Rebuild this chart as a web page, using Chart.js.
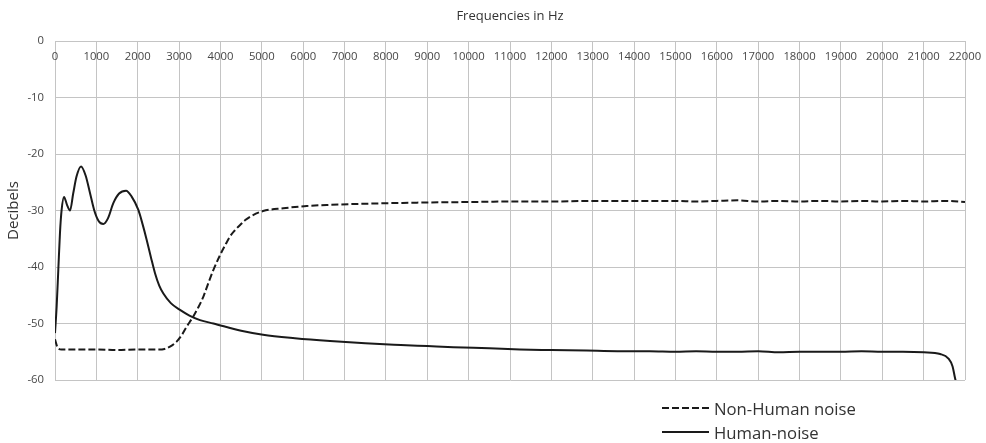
<!DOCTYPE html>
<html><head><meta charset="utf-8">
<script src="https://cdn.jsdelivr.net/npm/chart.js@4"></script>
<style>
html,body{margin:0;padding:0;background:#fff;}
#wrap{position:relative;width:986px;height:443px;}
canvas{position:absolute;left:0;top:0;}
.leg{position:absolute;left:660px;height:20px;font-family:"Open Sans";font-size:16.7px;color:#333333;display:flex;align-items:center;white-space:nowrap;}
.leg span{margin-left:4px;}
</style></head>
<body>
<div id="wrap">
<canvas id="c" width="986" height="443"></canvas>
<div class="leg" style="top:398px"><svg width="50" height="20"><line x1="2" y1="10" x2="49" y2="10" stroke="#1a1a1a" stroke-width="2" stroke-dasharray="7,3"/></svg><span id="l1"></span></div>
<div class="leg" style="top:422px"><svg width="50" height="20"><line x1="2" y1="10" x2="49" y2="10" stroke="#1a1a1a" stroke-width="2"/></svg><span id="l2"></span></div>
</div>
<script>
const seriesNames = ["Non-Human noise", "Human-noise"];
const xTitle = "Frequencies in Hz";
const yTitle = "Decibels";

const nonHumanHz = [0, 60, 160, 500, 1000, 1500, 2000, 2500, 2650, 2780, 2940, 3060, 3180, 3340, 3460, 3590, 3710, 3830, 3990, 4110, 4230, 4350, 4470, 4600, 4715, 5030, 5520, 6090, 6650, 7500, 8820, 10000, 11240, 12000, 13000, 14000, 14380, 15000, 15500, 16000, 16500, 17000, 17500, 18000, 18500, 19000, 19500, 20000, 20500, 21000, 21500, 22000];
const nonHumanDb = [-52.8, -54.2, -54.6, -54.6, -54.6, -54.7, -54.6, -54.6, -54.5, -54.1, -53.2, -52.1, -50.6, -48.8, -47.2, -45.2, -42.8, -40.5, -37.9, -36.2, -34.6, -33.5, -32.6, -31.7, -31.1, -30.1, -29.6, -29.2, -29.0, -28.8, -28.6, -28.5, -28.4, -28.4, -28.3, -28.3, -28.3, -28.3, -28.4, -28.3, -28.2, -28.4, -28.3, -28.4, -28.3, -28.4, -28.3, -28.4, -28.3, -28.4, -28.3, -28.5];

const humanHz = [0, 40, 80, 120, 160, 218, 290, 363, 440, 520, 629, 740, 846, 950, 1050, 1168, 1280, 1410, 1550, 1717, 1850, 2015, 2120, 2217, 2320, 2418, 2520, 2620, 2800, 3022, 3250, 3506, 3830, 4500, 5030, 5800, 6650, 7500, 8360, 9000, 9630, 10500, 11240, 12000, 12850, 13600, 14380, 15000, 15500, 16000, 16500, 17000, 17500, 18000, 18500, 19000, 19500, 20000, 20500, 21000, 21400, 21600, 21700, 21760, 21790];
const humanDb = [-51.7, -47.0, -40.5, -34.0, -29.9, -27.6, -29.0, -30.0, -27.0, -24.0, -22.2, -23.8, -26.9, -30.0, -31.8, -32.4, -31.4, -28.7, -27.0, -26.5, -27.5, -29.9, -32.5, -35.2, -38.3, -41.1, -43.3, -44.7, -46.4, -47.6, -48.6, -49.4, -50.0, -51.3, -52.0, -52.6, -53.1, -53.5, -53.8, -54.0, -54.2, -54.4, -54.6, -54.7, -54.8, -54.9, -54.9, -55.0, -54.9, -55.0, -55.0, -54.9, -55.1, -55.0, -55.0, -55.0, -54.9, -55.0, -55.0, -55.1, -55.4, -56.2, -57.6, -59.7, -60.5];

const xTicks = {min: 0, max: 22000, step: 1000};
const yTicks = {min: -60, max: 0, step: 10};

document.getElementById('l1').textContent = seriesNames[0];
document.getElementById('l2').textContent = seriesNames[1];

const toPts = (xs, ys) => xs.map((x, i) => ({x: x, y: ys[i]}));
const FONT = "'Open Sans'";
const TXT = '#474747';
const GRID = '#c4c4c4';

// x tick labels drawn just below the top axis line, inside the plot (as in the original)
const innerXLabels = {
  id: 'innerXLabels',
  beforeDatasetsDraw(chart) {
    const sc = chart.scales.x, ctx = chart.ctx;
    ctx.save();
    ctx.font = "11.3px 'Open Sans'";
    ctx.fillStyle = TXT;
    ctx.textAlign = 'center';
    ctx.textBaseline = 'middle';
    sc.ticks.forEach(t => {
      ctx.fillText(String(t.value), sc.getPixelForValue(t.value), chart.chartArea.top + 16);
    });
    ctx.restore();
  }
};

new Chart(document.getElementById('c'), {
  type: 'line',
  data: {
    datasets: [
      {label: seriesNames[0], data: toPts(nonHumanHz, nonHumanDb), borderColor: '#1a1a1a', borderWidth: 2, borderDash: [7, 3], pointRadius: 0, cubicInterpolationMode: 'monotone', fill: false},
      {label: seriesNames[1], data: toPts(humanHz, humanDb), borderColor: '#1a1a1a', borderWidth: 2, pointRadius: 0, cubicInterpolationMode: 'monotone', fill: false}
    ]
  },
  plugins: [innerXLabels],
  options: {
    responsive: false,
    animation: false,
    devicePixelRatio: 1,
    layout: {padding: {left: 0, top: 0, right: 21, bottom: 63}},
    plugins: {legend: {display: false}, tooltip: {enabled: false}},
    scales: {
      x: {
        type: 'linear', position: 'top', min: xTicks.min, max: xTicks.max,
        ticks: {stepSize: xTicks.step, display: false, autoSkip: false, maxRotation: 0},
        grid: {color: GRID, drawTicks: false, lineWidth: 1},
        border: {display: true, color: GRID},
        title: {display: true, text: xTitle, color: '#333333', font: {family: FONT, size: 13}, padding: {top: 8, bottom: 0}},
        afterFit: s => { s.height = 41; }
      },
      y: {
        type: 'linear', min: yTicks.min, max: yTicks.max,
        ticks: {stepSize: yTicks.step, padding: 11, color: TXT, font: {family: FONT, size: 11.3}},
        grid: {color: GRID, drawTicks: false, lineWidth: 1},
        border: {display: true, color: GRID},
        title: {display: true, text: yTitle, color: '#333333', font: {family: FONT, size: 15}, padding: {top: 5, bottom: 0}},
        afterFit: s => { s.width = 55; }
      }
    }
  }
});
</script>
</body></html>
